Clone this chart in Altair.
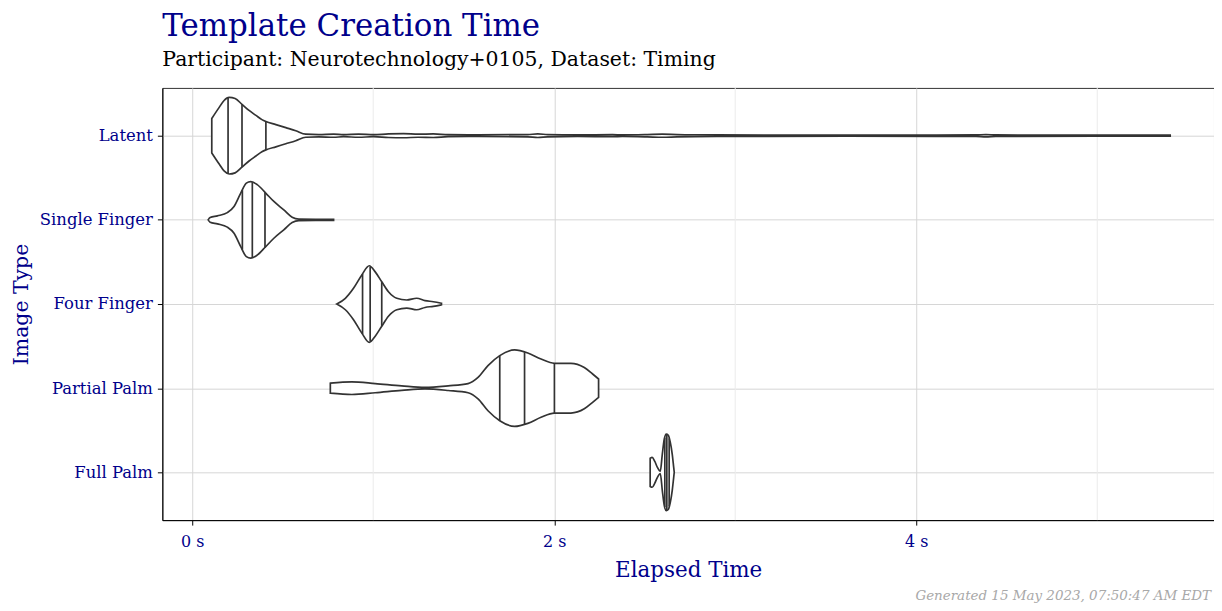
import altair as alt
import pandas as pd
import numpy as np

categories = ["Latent", "Single Finger", "Four Finger", "Partial Palm", "Full Palm"]

# violin outlines: time (s) and relative half-width (max = 1)
latent_t = [0.108, 0.149, 0.176, 0.204, 0.237, 0.275, 0.314, 0.352, 0.385, 0.407, 0.462, 0.517,
            0.572, 0.627, 0.699, 0.781, 0.836, 0.919, 1.001, 1.084, 1.167, 1.249, 1.332, 1.414,
            1.579, 1.854, 1.909, 1.964, 2.129, 2.322, 2.377, 2.514, 2.597, 2.679, 2.900, 3.615,
            4.330, 4.385, 4.440, 4.990, 5.403]
latent_w = [0.45, 0.74, 0.92, 1.0, 0.97, 0.82, 0.66, 0.53, 0.42, 0.37, 0.29, 0.21,
            0.13, 0.04, 0.03, 0.04, 0.026, 0.04, 0.026, 0.047, 0.053, 0.04, 0.047, 0.026,
            0.02, 0.03, 0.047, 0.03, 0.02, 0.026, 0.02, 0.03, 0.04, 0.03, 0.02, 0.013,
            0.02, 0.03, 0.02, 0.013, 0.013]

single_t = [0.088, 0.099, 0.139, 0.194, 0.231, 0.268, 0.299, 0.323, 0.359, 0.406, 0.451, 0.506,
            0.552, 0.589, 0.781]
single_w = [0.0, 0.06, 0.105, 0.19, 0.35, 0.70, 0.96, 1.0, 0.92, 0.70, 0.48, 0.26,
            0.07, 0.02, 0.013]

four_t = [0.799, 0.846, 0.891, 0.937, 0.978, 1.011, 1.047, 1.084, 1.130, 1.185, 1.240, 1.286,
          1.332, 1.377]
four_w = [0.0, 0.15, 0.41, 0.76, 1.0, 0.84, 0.58, 0.32, 0.15, 0.105, 0.15, 0.09,
          0.06, 0.02]

partial_t = [0.763, 0.882, 1.011, 1.157, 1.286, 1.414, 1.524, 1.579, 1.634, 1.699, 1.781, 1.854,
             1.927, 2.001, 2.092, 2.166, 2.212, 2.245]
partial_w = [0.13, 0.165, 0.12, 0.06, 0.02, 0.06, 0.12, 0.28, 0.59, 0.85, 1.0, 0.92,
             0.76, 0.65, 0.65, 0.54, 0.37, 0.24]

full_t = [2.530, 2.541, 2.555, 2.570, 2.586, 2.597, 2.608, 2.619, 2.630, 2.641, 2.652, 2.660, 2.663]
full_w = [0.37, 0.39, 0.29, 0.13, 0.03, 0.47, 0.87, 1.0, 0.97, 0.79, 0.47, 0.13, 0.0]

# quartile lines (25%, 50%, 75%)
latent_q = [0.198, 0.275, 0.407]
single_q = [0.277, 0.332, 0.402]
four_q = [0.941, 0.983, 1.047]
partial_q = [1.699, 1.836, 2.001]
full_q = [2.611, 2.622, 2.635]

major_ticks = [0, 2, 4]
minor_ticks = [1, 3, 5]

title_text = "Template Creation Time"
subtitle_text = "Participant: Neurotechnology+0105, Dataset: Timing"
caption_text = "Generated 15 May 2023, 07:50:47 AM EDT"

NAVY = "#00008B"
FONT = "DejaVu Serif"
HALF = 0.455

profiles = [latent_t, single_t, four_t, partial_t, full_t]
widths = [latent_w, single_w, four_w, partial_w, full_w]
quants = [latent_q, single_q, four_q, partial_q, full_q]
n = len(categories)

rows = []
qrows = []
for i, cat in enumerate(categories):
    center = n - i
    for t, w in zip(profiles[i], widths[i]):
        rows.append({"cat": cat, "t": t, "hi": center + HALF * w, "lo": center - HALF * w})
    for q in quants[i]:
        w = float(np.interp(q, profiles[i], widths[i]))
        qrows.append({"cat": cat, "t": q, "hi": center + HALF * w, "lo": center - HALF * w})
prof = pd.DataFrame(rows)
qdf = pd.DataFrame(qrows)
minor_df = pd.DataFrame({"t": minor_ticks})

label_expr = " : ".join(
    [f"datum.value == {n - i} ? '{c}'" for i, c in enumerate(categories)]
) + " : ''"

xscale = alt.Scale(domain=[-0.165, 5.645], nice=False, zero=False)
yscale = alt.Scale(domain=[0.432, 5.568], nice=False, zero=False)

xaxis = alt.Axis(values=major_ticks, labelExpr="datum.value + ' s'", title="Elapsed Time",
                 labelColor=NAVY, titleColor=NAVY, labelFont=FONT, titleFont=FONT,
                 labelFontSize=16, titleFontSize=21.5, titleFontWeight="normal",
                 domainColor="#000000", tickColor="#000000", tickSize=5, labelPadding=8,
                 titlePadding=11, gridColor="#D6D6D6", labelFlush=False)
yaxis = alt.Axis(values=list(range(1, n + 1)), labelExpr=label_expr, title="Image Type",
                 labelColor=NAVY, titleColor=NAVY, labelFont=FONT, titleFont=FONT,
                 labelFontSize=16.5, titleFontSize=20.5, titleFontWeight="normal",
                 domainColor="#000000", tickColor="#000000", tickSize=5, labelPadding=5,
                 titlePadding=8, gridColor="#D6D6D6")

minor = alt.Chart(minor_df).mark_rule(color="#EBEBEB", strokeWidth=1).encode(
    x=alt.X("t:Q", scale=xscale, axis=xaxis),
    y=alt.value(0), y2=alt.value(434),
)

violins = alt.Chart(prof).mark_area(
    fill="white", stroke="#333333", strokeWidth=1.7, interpolate="monotone", orient="vertical"
).encode(
    x=alt.X("t:Q", scale=xscale, axis=xaxis),
    y=alt.Y("hi:Q", scale=yscale, axis=yaxis),
    y2="lo:Q",
    detail="cat:N",
)

qlines = alt.Chart(qdf).mark_rule(color="#333333", strokeWidth=1.7).encode(
    x=alt.X("t:Q", scale=xscale),
    y=alt.Y("hi:Q", scale=yscale),
    y2="lo:Q",
)

caption = alt.Chart(pd.DataFrame({"c": [caption_text]})).mark_text(
    align="right", baseline="alphabetic", font=FONT, fontSize=13.5, fontStyle="italic",
    color="#A8A8A8"
).encode(x=alt.value(1053), y=alt.value(514), text="c:N")

chart = alt.layer(minor, violins, qlines, caption).properties(
    width=1056, height=434,
    autosize=alt.AutoSizeParams(type="none"),
    padding={"left": 155, "top": 79, "right": 0, "bottom": 88},
    title=alt.TitleParams(text=title_text, subtitle=subtitle_text, anchor="start",
                          font=FONT, fontSize=31, fontWeight="normal", color=NAVY,
                          subtitleFont=FONT, subtitleFontSize=20.5, subtitleColor="#000000",
                          subtitlePadding=7, offset=16, frame="group"),
).configure_view(stroke="#333333", strokeWidth=1)

chart.save("out.html", embed_options={"renderer": "svg", "actions": False})
